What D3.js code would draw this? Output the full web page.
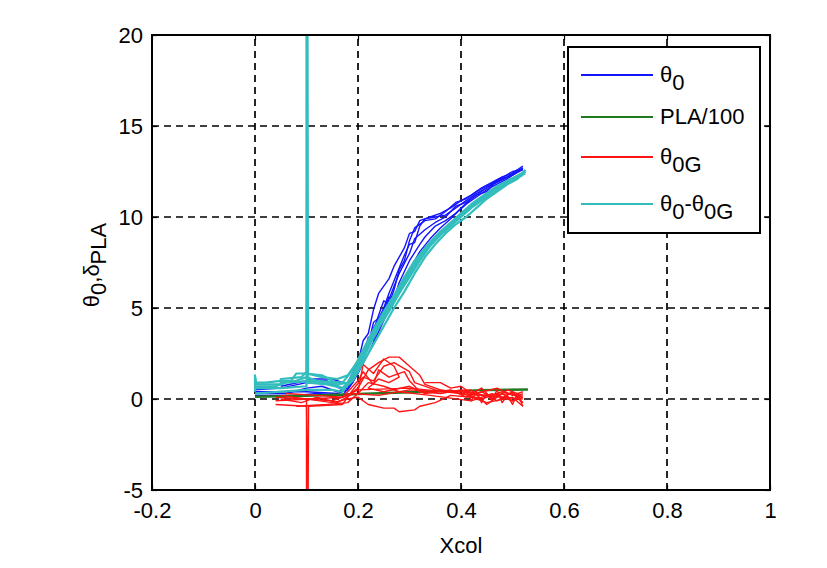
<!doctype html>
<html>
  <head>
    <meta charset="utf-8">
    <style>
      * { margin: 0; padding: 0; }
      body { background: #fff; width: 827px; height: 568px; overflow: hidden; }
      text { font-family: Arial, "Liberation Sans", sans-serif; fill: #000; }
    </style>
  </head>
  <body>
    <div id="main"></div>
  </body>
  <script src="https://d3js.org/d3.v7.min.js"></script>
<script>
    var width = 827, height = 568
    var margin = {left: 152, right: 57, top: 35, bottom: 78}
    var fontSize = 22

    // axis settings
    var xDomain = [-0.2, 1]
    var yDomain = [-5, 20]
    var xTicks = [-0.2, 0, 0.2, 0.4, 0.6, 0.8, 1]
    var yTicks = [-5, 0, 5, 10, 15, 20]

    var seriesColors = ['#1414ff', '#1f7a1f', '#ff1414', '#33bdbd']

    // theta0 runs (blue)
    var theta0Runs = [
      [[0,0.5],[0.05,0.6],[0.1,0.9],[0.15,0.8],[0.17,0.5],[0.18,0.9],[0.2,2.0],[0.21,3.2],[0.22,3.6],[0.23,4.9],[0.24,5.8],[0.26,6.6],[0.27,7.3],[0.29,8.3],[0.3,9.1],[0.31,9.2],[0.32,9.8],[0.34,10.0],[0.36,10.2],[0.38,10.5],[0.4,10.9],[0.42,11.2],[0.44,11.6],[0.46,11.9],[0.48,12.2],[0.5,12.4],[0.52,12.8]],
      [[0,0.3],[0.06,0.3],[0.1,0.6],[0.13,0.7],[0.16,0.4],[0.18,0.6],[0.2,1.5],[0.21,2.5],[0.22,2.8],[0.24,4.6],[0.25,5.4],[0.26,5.2],[0.27,6.0],[0.28,7.1],[0.29,7.6],[0.3,8.7],[0.31,9.4],[0.33,9.8],[0.35,9.9],[0.37,10.3],[0.39,10.8],[0.41,11.0],[0.43,11.4],[0.45,11.7],[0.47,12.0],[0.49,12.2],[0.51,12.6]],
      [[0,0.4],[0.1,0.4],[0.16,0.3],[0.18,0.5],[0.2,1.4],[0.22,2.5],[0.24,3.7],[0.26,4.9],[0.28,6.0],[0.3,7.1],[0.32,8.1],[0.34,8.8],[0.36,9.4],[0.38,9.9],[0.4,10.5],[0.42,11.0],[0.44,11.4],[0.46,11.8],[0.48,12.1],[0.5,12.3],[0.52,12.6]],
      [[0.05,0.7],[0.1,1.0],[0.14,1.0],[0.17,0.6],[0.19,1.1],[0.2,1.8],[0.21,2.3],[0.22,3.4],[0.23,3.2],[0.24,4.1],[0.25,4.9],[0.26,5.6],[0.27,5.5],[0.28,6.4],[0.3,7.6],[0.32,8.5],[0.33,8.9],[0.35,9.5],[0.37,9.8],[0.39,10.2],[0.41,10.7],[0.43,11.1],[0.45,11.5],[0.47,11.8],[0.49,12.1],[0.52,12.7]],
      [[0,0.2],[0.08,0.2],[0.12,0.3],[0.17,0.2],[0.19,0.9],[0.21,2.2],[0.23,3.9],[0.24,4.4],[0.25,5.0],[0.26,5.8],[0.27,6.5],[0.29,7.9],[0.3,8.5],[0.31,8.6],[0.32,9.5],[0.33,9.9],[0.35,10.0],[0.37,10.1],[0.39,10.5],[0.41,10.9],[0.43,11.3],[0.45,11.6],[0.47,11.9],[0.5,12.3],[0.52,12.7]],
      [[0.1,1.1],[0.15,1.1],[0.18,0.8],[0.2,1.7],[0.22,3.0],[0.23,4.2],[0.25,4.7],[0.27,6.2],[0.28,6.9],[0.3,8.0],[0.31,8.8],[0.33,9.3],[0.35,9.7],[0.37,10.0],[0.39,10.6],[0.41,10.8],[0.43,11.2],[0.45,11.4],[0.47,12.0],[0.5,12.5],[0.52,12.6]]
    ]

    // PLA/100 (green)
    var plaRuns = [
      [[0,0.15],[0.1,0.2],[0.2,0.3],[0.3,0.4],[0.4,0.45],[0.44,0.5],[0.53,0.55]],
      [[0,0.1],[0.1,0.15],[0.2,0.25],[0.3,0.35],[0.4,0.45],[0.53,0.5]]
    ]

    // theta0G runs (red)
    var theta0GRuns = [
      [[0.04,0.1],[0.1,0],[0.1,-6],[0.1,0],[0.15,-0.1],[0.18,0.2],[0.2,0.6],[0.22,1.6],[0.24,2.0],[0.26,2.3],[0.28,2.3],[0.3,1.8],[0.32,1.3],[0.33,0.8],[0.36,0.5],[0.4,0.3],[0.44,0.2],[0.48,0.1],[0.52,0]],
      [[0.04,-0.3],[0.1,-0.4],[0.103,-6],[0.104,-0.4],[0.17,-0.3],[0.19,0.5],[0.21,1.2],[0.23,1.0],[0.25,1.8],[0.27,2.0],[0.3,1.5],[0.31,0.9],[0.35,0.5],[0.4,0.4],[0.45,0.2],[0.5,0.3],[0.52,-0.2]],
      [[0.05,0.2],[0.15,-0.2],[0.18,0],[0.2,0.1],[0.22,-0.3],[0.25,-0.5],[0.27,-0.5],[0.28,-0.7],[0.31,-0.6],[0.32,-0.4],[0.35,-0.2],[0.38,0.2],[0.42,0.1],[0.45,-0.2],[0.5,0.1],[0.52,-0.4]],
      [[0.06,0.3],[0.12,0.2],[0.17,0.1],[0.2,1.0],[0.21,1.5],[0.23,0.8],[0.24,1.6],[0.26,1.2],[0.29,1.5],[0.3,1.0],[0.32,0.4],[0.36,0.3],[0.4,0.5],[0.43,0.3],[0.47,0.6],[0.5,0.2],[0.52,0.4]],
      [[0.04,-0.1],[0.17,0.1],[0.2,0.5],[0.3,0.6],[0.4,0.3],[0.44,0.0],[0.48,0.4],[0.52,0.1]],
      [[0.08,-0.4],[0.14,-0.3],[0.18,-0.2],[0.2,0.3],[0.22,0.9],[0.25,0.7],[0.28,0.4],[0.34,0.2],[0.42,-0.1],[0.46,0.3],[0.5,-0.1],[0.52,0.3]],
      [[0.4,0.2],[0.41,0.5],[0.42,-0.1],[0.43,0.4],[0.44,-0.2],[0.45,0.3],[0.46,-0.1],[0.47,0.5],[0.48,-0.2],[0.49,0.2],[0.5,-0.3],[0.51,0.3],[0.52,-0.4]],
      [[0.33,0.9],[0.36,0.9],[0.38,0.6],[0.4,0.7],[0.42,0.3],[0.44,0.6],[0.46,0.0],[0.48,0.3],[0.5,-0.1],[0.52,0.1]],
      [[0.2,0.4],[0.21,1.9],[0.23,1.4],[0.25,2.2],[0.27,1.8],[0.28,1.2],[0.26,0.9],[0.24,1.1],[0.22,0.6],[0.25,0.4],[0.3,0.7],[0.33,0.3],[0.38,0.5],[0.41,0.1],[0.44,0.4],[0.47,-0.1],[0.5,0.4],[0.52,-0.2]],
      [[0.05,0.0],[0.09,-0.2],[0.12,0.1],[0.16,-0.2],[0.19,0.3],[0.24,0.2],[0.3,0.5],[0.36,0.4],[0.42,0.5],[0.45,-0.3],[0.49,0.5],[0.52,0.2]]
    ]

    // theta0 - theta0G runs (teal)
    var diffRuns = [
      [[0,0.4],[0,1.3],[0.003,0.8],[0.05,0.8],[0.05,1.1],[0.09,1.2],[0.1,1.5],[0.1,20.5],[0.101,1.4],[0.13,1.2],[0.16,1.1],[0.18,1.3],[0.2,2.1],[0.22,3.2],[0.24,4.2],[0.26,5.1],[0.28,6.1],[0.3,7.0],[0.32,7.9],[0.34,8.6],[0.36,9.2],[0.38,9.7],[0.4,10.2],[0.42,10.7],[0.44,11.1],[0.46,11.5],[0.48,11.8],[0.5,12.1],[0.525,12.5]],
      [[0,0.6],[0.05,0.6],[0.1,0.7],[0.102,20.5],[0.103,0.9],[0.14,0.8],[0.17,0.6],[0.19,1.2],[0.21,2.4],[0.23,3.5],[0.25,4.5],[0.27,5.5],[0.29,6.4],[0.31,7.3],[0.33,8.1],[0.35,8.8],[0.37,9.3],[0.39,9.8],[0.41,10.3],[0.43,10.8],[0.45,11.2],[0.47,11.6],[0.49,11.9],[0.51,12.2],[0.525,12.4]],
      [[0,0.9],[0.02,0.9],[0.05,1.0],[0.07,1.0],[0.08,1.4],[0.1,1.4],[0.13,1.3],[0.15,1.0],[0.17,0.5],[0.19,1.0],[0.21,2.0],[0.23,3.0],[0.25,4.0],[0.27,5.0],[0.29,5.9],[0.31,6.9],[0.33,7.8],[0.35,8.5],[0.37,9.1],[0.39,9.6],[0.41,10.0],[0.43,10.5],[0.45,11.0],[0.47,11.4],[0.49,11.8],[0.51,12.1],[0.525,12.6]],
      [[0,0.3],[0.05,0.4],[0.1,0.5],[0.15,0.5],[0.17,0.4],[0.2,1.6],[0.22,2.8],[0.24,3.9],[0.26,4.8],[0.28,5.8],[0.3,6.7],[0.32,7.6],[0.34,8.4],[0.36,9.0],[0.38,9.5],[0.4,10.0],[0.42,10.5],[0.44,10.9],[0.46,11.3],[0.48,11.7],[0.5,12.0],[0.52,12.3]],
      [[0.05,0.9],[0.08,1.0],[0.1,1.2],[0.12,1.0],[0.17,0.9],[0.19,1.6],[0.21,2.7],[0.23,3.8],[0.25,4.8],[0.27,5.7],[0.29,6.7],[0.31,7.6],[0.33,8.3],[0.35,8.9],[0.37,9.4],[0.39,9.9],[0.41,10.4],[0.43,10.9],[0.45,11.3],[0.47,11.7],[0.49,12.0],[0.52,12.4]],
      [[0,0.7],[0.04,0.7],[0.06,0.9],[0.11,1.0],[0.16,0.8],[0.18,0.9],[0.2,1.9],[0.22,3.0],[0.24,4.0],[0.26,4.9],[0.28,5.9],[0.3,6.8],[0.32,7.7],[0.34,8.5],[0.36,9.1],[0.38,9.6],[0.4,10.1],[0.42,10.6],[0.44,11.0],[0.46,11.4],[0.48,11.8],[0.5,12.1],[0.525,12.5]]
    ]

    var allRuns = [theta0Runs, plaRuns, theta0GRuns, diffRuns]
    var runWidths = [1.4, 1.6, 1.4, 2.2]

    var fmt = function(d){ return String(d) }

    var svg = d3.select('#main').append('svg')
      .attr('width', width).attr('height', height)

    var x = d3.scaleLinear().domain(xDomain).range([margin.left, width - margin.right])
    var y = d3.scaleLinear().domain(yDomain).range([height - margin.bottom, margin.top])

    svg.append('defs').append('clipPath').attr('id', 'plotClip')
      .append('rect')
      .attr('x', x(xDomain[0])).attr('y', y(yDomain[1]))
      .attr('width', x(xDomain[1]) - x(xDomain[0]))
      .attr('height', y(yDomain[0]) - y(yDomain[1]))

    //grid
    var grid = svg.append('g')
    grid.selectAll('.vgrid').data(xTicks.slice(1, -1)).enter().append('line')
      .attr('x1', function(d){return x(d)}).attr('x2', function(d){return x(d)})
      .attr('y1', y(yDomain[0])).attr('y2', y(yDomain[1]))
      .attr('stroke', '#000').attr('stroke-width', 1.7).attr('stroke-dasharray', '7,5')
    grid.selectAll('.hgrid').data(yTicks.slice(1, -1)).enter().append('line')
      .attr('y1', function(d){return y(d)}).attr('y2', function(d){return y(d)})
      .attr('x1', x(xDomain[0])).attr('x2', x(xDomain[1]))
      .attr('stroke', '#000').attr('stroke-width', 1.7).attr('stroke-dasharray', '7,5')

    //data lines
    var line = d3.line().x(function(d){return x(d[0])}).y(function(d){return y(d[1])})
    var plot = svg.append('g').attr('clip-path', 'url(#plotClip)')
    allRuns.forEach(function(runs, i){
      plot.selectAll('.run' + i).data(runs).enter().append('path')
        .attr('d', line)
        .attr('fill', 'none')
        .attr('stroke', seriesColors[i])
        .attr('stroke-width', runWidths[i])
        .attr('stroke-linejoin', 'round')
    })

    //axes with inward ticks
    var axisStyle = function(g){
      g.select('.domain').remove()
      g.selectAll('text').style('font-size', fontSize + 'px').style('font-family', 'Arial, "Liberation Sans", sans-serif')
    }
    svg.append('g').attr('transform', 'translate(0,' + y(yDomain[0]) + ')')
      .call(d3.axisBottom(x).tickValues(xTicks).tickFormat(fmt).tickSizeInner(-5).tickSizeOuter(0).tickPadding(12))
      .call(axisStyle)
    svg.append('g').attr('transform', 'translate(0,' + y(yDomain[1]) + ')')
      .call(d3.axisTop(x).tickValues(xTicks).tickFormat('').tickSizeInner(-5).tickSizeOuter(0))
      .call(axisStyle)
    svg.append('g').attr('transform', 'translate(' + x(xDomain[0]) + ',0)')
      .call(d3.axisLeft(y).tickValues(yTicks).tickFormat(fmt).tickSizeInner(-5).tickSizeOuter(0).tickPadding(9))
      .call(axisStyle)
    svg.append('g').attr('transform', 'translate(' + x(xDomain[1]) + ',0)')
      .call(d3.axisRight(y).tickValues(yTicks).tickFormat('').tickSizeInner(-5).tickSizeOuter(0))
      .call(axisStyle)
    svg.selectAll('.tick line').attr('stroke-width', 1.2)

    svg.append('rect')
      .attr('x', x(xDomain[0])).attr('y', y(yDomain[1]))
      .attr('width', x(xDomain[1]) - x(xDomain[0]))
      .attr('height', y(yDomain[0]) - y(yDomain[1]))
      .attr('fill', 'none').attr('stroke', '#000').attr('stroke-width', 2)

    //axis labels
    svg.append('text').attr('x', (x(xDomain[0]) + x(xDomain[1])) / 2).attr('y', 553)
      .attr('text-anchor', 'middle').style('font-size', fontSize + 'px').text('Xcol')

    var ylab = svg.append('text')
      .attr('transform', 'translate(99,265) rotate(-90)')
      .attr('text-anchor', 'middle').style('font-size', fontSize + 'px')
    ylab.append('tspan').text('\u03b8')
    ylab.append('tspan').attr('dy', 7).text('0')
    ylab.append('tspan').attr('dy', -7).text(',\u03b4')
    ylab.append('tspan').attr('dy', 7).text('PLA')

    //legend
    var legend = svg.append('g')
    legend.append('rect').attr('x', 568).attr('y', 47).attr('width', 192).attr('height', 186)
      .attr('fill', '#fff').attr('stroke', '#000').attr('stroke-width', 2)
    var legendY = [75, 117, 157, 204]
    var legendLabels = [['\u03b8', '0'], ['PLA/100'], ['\u03b8', '0G'], ['\u03b8', '0', '-\u03b8', '0G']]
    legendLabels.forEach(function(lab, i){
      legend.append('line').attr('x1', 581).attr('x2', 653)
        .attr('y1', legendY[i]).attr('y2', legendY[i])
        .attr('stroke', seriesColors[i]).attr('stroke-width', 2)
      var t = legend.append('text').attr('x', 660).attr('y', legendY[i] + 7).style('font-size', fontSize + 'px')
      lab.forEach(function(s, j){
        var ts = t.append('tspan').text(s)
        if (lab.length > 1 && j > 0) ts.attr('dy', j % 2 == 1 ? 8 : -8)
      })
    })
</script>
</html>
